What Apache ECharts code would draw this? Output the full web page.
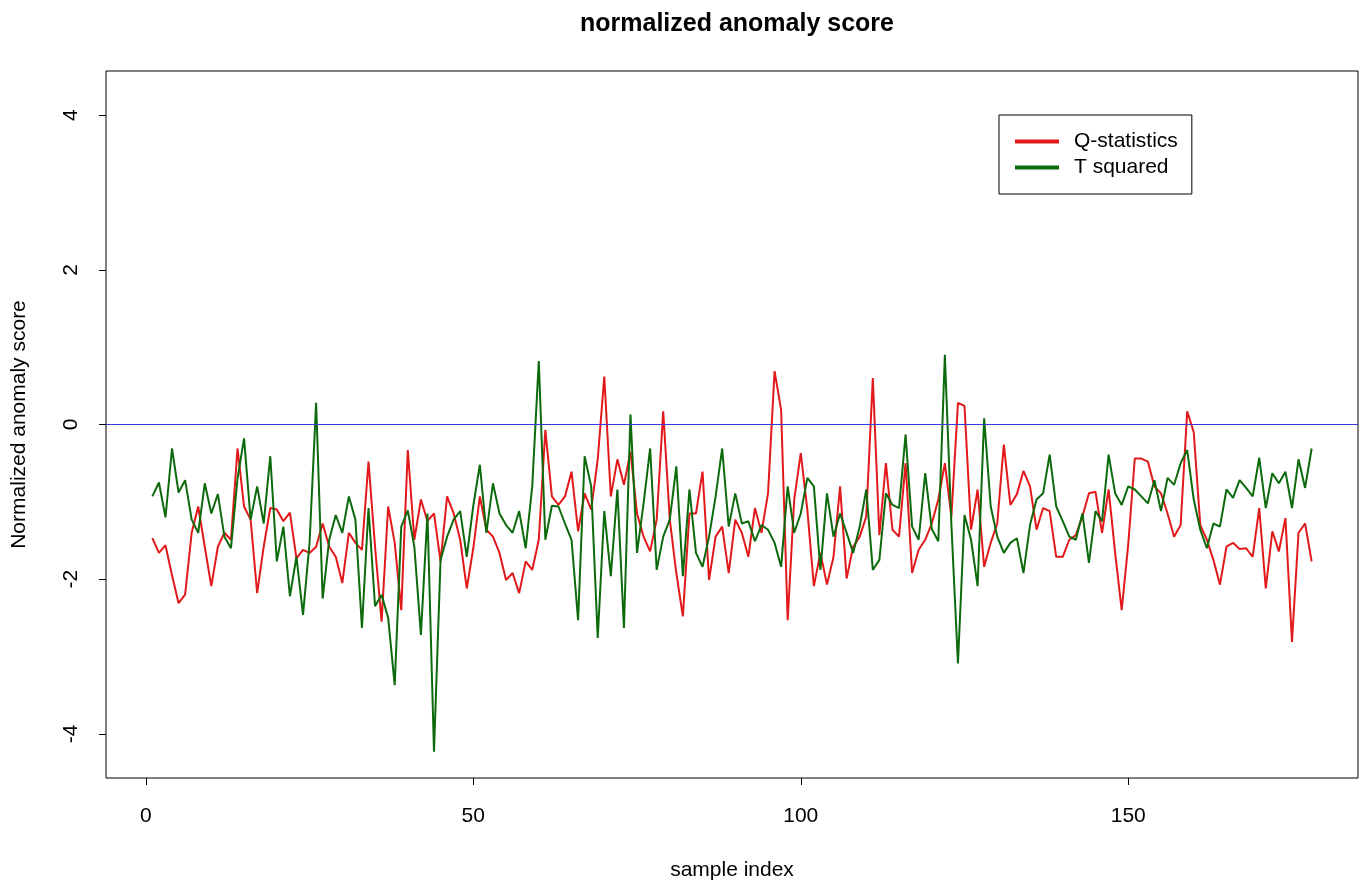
<!DOCTYPE html>
<html>
<head>
<meta charset="utf-8">
<script src="https://cdn.jsdelivr.net/npm/echarts@6/dist/echarts.min.js"></script>
<style>
  html, body { margin: 0; padding: 0; background: #fff; }
  #chart { width: 1360px; height: 881px; }
</style>
</head>
<body>
<div id="chart"></div>
<script>
// Q-statistics score per sample (samples 1..178)
const qStat = [
  -1.47, -1.66, -1.56, -1.95, -2.31, -2.20, -1.40, -1.06, -1.58, -2.09,
  -1.58, -1.40, -1.49, -0.31, -1.06, -1.23, -2.18, -1.58, -1.08, -1.10,
  -1.25, -1.14, -1.73, -1.62, -1.66, -1.58, -1.28, -1.58, -1.71, -2.05,
  -1.40, -1.53, -1.62, -0.48, -1.58, -2.55, -1.06, -1.53, -2.40, -0.33,
  -1.49, -0.97, -1.25, -1.15, -1.77, -0.93, -1.15, -1.49, -2.12, -1.60,
  -0.93, -1.36, -1.45, -1.66, -2.01, -1.92, -2.18, -1.77, -1.88, -1.49,
  -0.07, -0.93, -1.04, -0.93, -0.61, -1.38, -0.89, -1.10, -0.45, 0.62,
  -0.93, -0.45, -0.78, -0.35, -1.15, -1.45, -1.64, -1.23, 0.17, -1.23,
  -1.92, -2.48, -1.15, -1.15, -0.61, -2.01, -1.45, -1.32, -1.92, -1.23,
  -1.40, -1.71, -1.08, -1.40, -0.89, 0.69, 0.19, -2.53, -0.97, -0.37,
  -1.10, -2.09, -1.66, -2.07, -1.71, -0.80, -1.99, -1.58, -1.45, -1.19,
  0.60, -1.43, -0.50, -1.36, -1.45, -0.50, -1.92, -1.62, -1.49, -1.28,
  -0.97, -0.50, -1.19, 0.28, 0.24, -1.36, -0.84, -1.84, -1.53, -1.28,
  -0.26, -1.04, -0.90, -0.60, -0.80, -1.36, -1.08, -1.12, -1.71, -1.71,
  -1.49, -1.43, -1.19, -0.89, -0.87, -1.40, -0.84, -1.66, -2.40, -1.55,
  -0.44, -0.44, -0.48, -0.80, -0.89, -1.15, -1.45, -1.30, 0.17, -0.10,
  -1.30, -1.49, -1.75, -2.07, -1.58, -1.53, -1.61, -1.60, -1.71, -1.08,
  -2.12, -1.38, -1.64, -1.21, -2.81, -1.40, -1.28, -1.77
];

// T squared score per sample (samples 1..178)
const tSquared = [
  -0.93, -0.75, -1.20, -0.31, -0.88, -0.72, -1.23, -1.40, -0.76, -1.15,
  -0.90, -1.45, -1.60, -0.70, -0.18, -1.23, -0.80, -1.28, -0.41, -1.77,
  -1.32, -2.22, -1.71, -2.46, -1.53, 0.28, -2.25, -1.49, -1.17, -1.40,
  -0.93, -1.23, -2.63, -1.08, -2.35, -2.20, -2.50, -3.37, -1.32, -1.11,
  -1.58, -2.72, -1.15, -4.23, -1.75, -1.45, -1.23, -1.12, -1.71, -1.05,
  -0.52, -1.40, -0.76, -1.15, -1.30, -1.40, -1.12, -1.60, -0.80, 0.82,
  -1.49, -1.05, -1.06, -1.28, -1.49, -2.53, -0.41, -0.80, -2.76, -1.12,
  -1.96, -0.84, -2.63, 0.13, -1.66, -1.02, -0.31, -1.88, -1.45, -1.23,
  -0.54, -1.96, -0.84, -1.66, -1.84, -1.45, -0.93, -0.31, -1.32, -0.89,
  -1.28, -1.25, -1.51, -1.30, -1.36, -1.53, -1.84, -0.80, -1.40, -1.15,
  -0.69, -0.80, -1.88, -0.89, -1.45, -1.15, -1.40, -1.66, -1.32, -0.84,
  -1.88, -1.75, -0.89, -1.04, -1.08, -0.13, -1.32, -1.49, -0.63, -1.35,
  -1.51, 0.90, -1.30, -3.09, -1.17, -1.49, -2.09, 0.08, -1.06, -1.45,
  -1.66, -1.53, -1.47, -1.92, -1.30, -0.97, -0.89, -0.39, -1.06, -1.25,
  -1.45, -1.49, -1.15, -1.79, -1.12, -1.25, -0.39, -0.89, -1.04, -0.80,
  -0.84, -0.93, -1.02, -0.72, -1.12, -0.69, -0.78, -0.50, -0.33, -0.97,
  -1.36, -1.60, -1.28, -1.32, -0.84, -0.95, -0.72, -0.82, -0.93, -0.43,
  -1.08, -0.63, -0.76, -0.61, -1.08, -0.45, -0.82, -0.31
];

// Axis tick values
const xTicks = [0, 50, 100, 150];
const yTicks = [-4, -2, 0, 2, 4];

// Reference level for the scores
const thresholdLevel = 0;

const FONT = "'Liberation Sans', Arial, sans-serif";
const n = qStat.length;
// R-style axis extent: data range padded by 4% on each side
const xPad = (n - 1) * 0.04;
const yMin = -4.57, yMax = 4.57;

const toPoints = arr => arr.map((v, i) => [i + 1, v]);

const chart = echarts.init(document.getElementById('chart'), null, { renderer: 'canvas' });

chart.setOption({
  animation: false,
  backgroundColor: '#ffffff',
  textStyle: { fontFamily: FONT },
  title: {
    text: 'normalized anomaly score',
    left: 732,
    top: 7,
    textAlign: 'center',
    textStyle: { fontFamily: FONT, fontWeight: 'bold', fontSize: 25, color: '#000' }
  },
  legend: {
    orient: 'vertical',
    left: 999,
    top: 115,
    padding: [16, 14, 16, 16],
    itemGap: 5,
    itemWidth: 44,
    itemHeight: 4,
    icon: 'rect',
    borderColor: '#000',
    borderWidth: 1,
    textStyle: { fontFamily: FONT, fontSize: 21, color: '#000', lineHeight: 20, padding: [0, 0, 0, 10] },
    data: ['Q-statistics', 'T squared']
  },
  grid: {
    left: 106,
    top: 71,
    width: 1252,
    height: 707,
    show: true,
    borderColor: '#000',
    borderWidth: 1,
    backgroundColor: 'transparent',
    containLabel: false,
    outerBoundsMode: 'none'
  },
  xAxis: {
    type: 'value',
    min: 1 - xPad,
    max: n + xPad,
    name: 'sample index',
    nameLocation: 'middle',
    nameGap: 82,
    nameTextStyle: { fontFamily: FONT, fontSize: 21, color: '#000' },
    axisLine: { show: false, onZero: false },
    splitLine: { show: false },
    axisTick: { show: true, inside: false, length: 7, customValues: xTicks, lineStyle: { color: '#000' } },
    axisLabel: { show: true, margin: 28, customValues: xTicks, fontFamily: FONT, fontSize: 21, color: '#000' }
  },
  yAxis: {
    type: 'value',
    min: yMin,
    max: yMax,
    name: 'Normalized anomaly score',
    nameLocation: 'middle',
    nameRotate: 90,
    nameGap: 76,
    nameTextStyle: { fontFamily: FONT, fontSize: 21, color: '#000' },
    axisLine: { show: false, onZero: false },
    splitLine: { show: false },
    axisTick: { show: true, inside: false, length: 7, customValues: yTicks, lineStyle: { color: '#000' } },
    axisLabel: { show: true, margin: 24, rotate: 90, customValues: yTicks, fontFamily: FONT, fontSize: 21, color: '#000' }
  },
  series: [
    {
      name: 'Q-statistics',
      type: 'line',
      data: toPoints(qStat),
      showSymbol: false,
      symbol: 'none',
      color: '#e2191b',
      lineStyle: { width: 2, color: '#e2191b' },
      z: 2
    },
    {
      name: 'T squared',
      type: 'line',
      data: toPoints(tSquared),
      showSymbol: false,
      symbol: 'none',
      color: '#0c6a0c',
      lineStyle: { width: 2, color: '#0c6a0c' },
      z: 3,
      markLine: {
        silent: true,
        symbol: 'none',
        label: { show: false },
        lineStyle: { color: '#3a3ad6', width: 1, type: 'solid' },
        data: [{ yAxis: thresholdLevel }]
      }
    }
  ]
});
</script>
</body>
</html>
